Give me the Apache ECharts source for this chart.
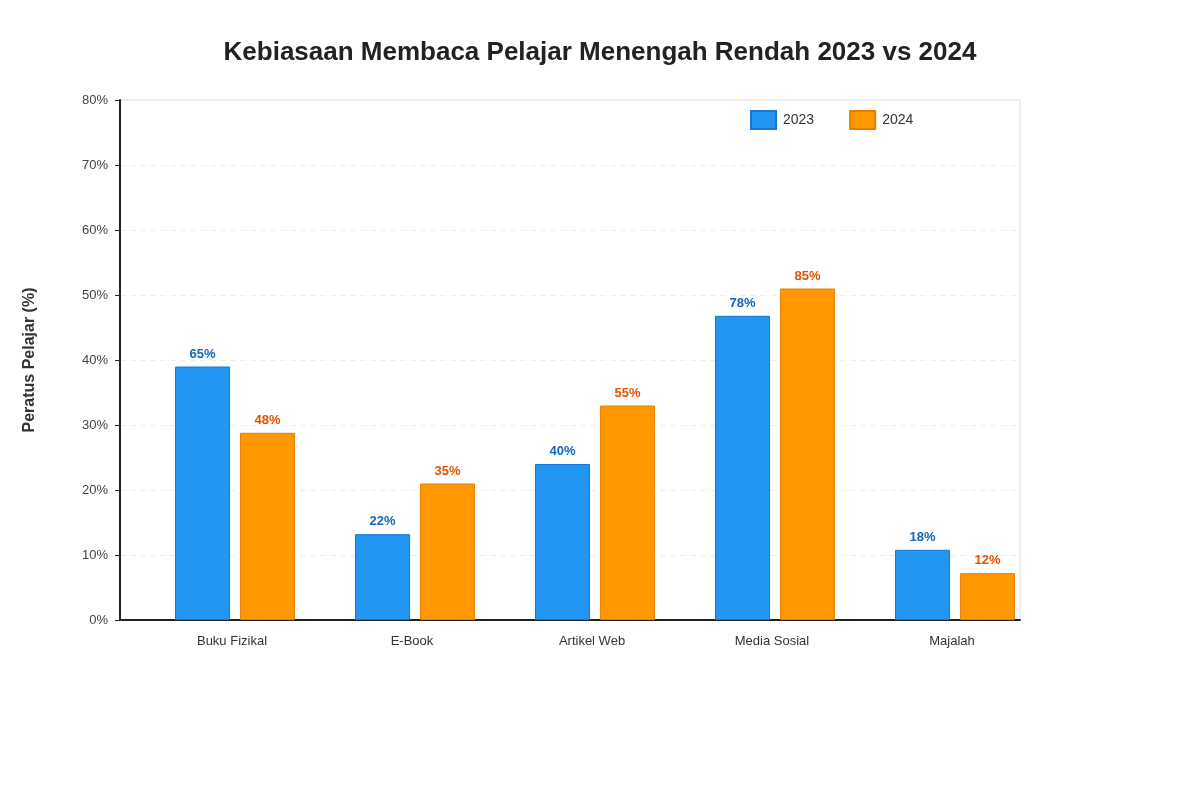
<!DOCTYPE html>
<html>
<head>
<meta charset="utf-8">
<script src="https://cdn.jsdelivr.net/npm/echarts@6/dist/echarts.min.js"></script>
<style>html,body{margin:0;padding:0;background:#fff}#c{width:1200px;height:800px}</style>
</head>
<body>
<div id="c"></div>
<script>
var categories = ['Buku Fizikal', 'E-Book', 'Artikel Web', 'Media Sosial', 'Majalah'];
var values2023 = [65, 22, 40, 78, 18];
var values2024 = [48, 35, 55, 85, 12];
var seriesNames = ['2023', '2024'];
// The axis as drawn: labels 0%..80% span data 0..133.3 (label = value * 0.6)
var axisScale = 0.6;
var axisTopLabel = 80;
var axisStepLabel = 10;

var yMax = axisTopLabel / axisScale;
var yInterval = axisStepLabel / axisScale;
var font = 'Liberation Sans, Arial, Helvetica, sans-serif';

var chart = echarts.init(document.getElementById('c'));
chart.setOption({
  animation: false,
  backgroundColor: '#fff',
  textStyle: { fontFamily: font },
  title: {
    text: 'Kebiasaan Membaca Pelajar Menengah Rendah 2023 vs 2024',
    left: 'center', top: 35,
    textStyle: { fontSize: 26, fontWeight: 'bold', color: '#222', fontFamily: font }
  },
  legend: {
    data: seriesNames,
    left: 745, top: 105,
    itemWidth: 25, itemHeight: 18, itemGap: 35,
    icon: 'rect',
    textStyle: { fontSize: 14, color: '#333', fontFamily: font, padding: [0, 0, 0, 2] }
  },
  grid: [
    { left: 120, top: 100, width: 900, height: 520, show: true, borderColor: '#ddd', borderWidth: 1, backgroundColor: 'transparent' },
    { left: 145, top: 100, width: 900, height: 520 }
  ],
  xAxis: [
    { type: 'category', gridIndex: 0, data: categories,
      axisLine: { lineStyle: { color: '#222', width: 2 } },
      axisTick: { show: false }, axisLabel: { show: false } },
    { type: 'category', gridIndex: 1, data: categories,
      axisLine: { show: false }, axisTick: { show: false },
      axisLabel: { fontSize: 13, color: '#333', margin: 15, padding: [0, 6, 0, 0], fontFamily: font } }
  ],
  yAxis: [
    { type: 'value', gridIndex: 0, min: 0, max: yMax, interval: yInterval,
      name: 'Peratus Pelajar (%)', nameLocation: 'middle', nameGap: 82,
      nameTextStyle: { fontSize: 16, fontWeight: 'bold', color: '#333', fontFamily: font },
      axisLine: { show: true, lineStyle: { color: '#222', width: 2 } },
      axisTick: { show: true, length: 5, lineStyle: { color: '#222' } },
      axisLabel: { fontSize: 13, color: '#444', margin: 12, fontFamily: font,
        formatter: function (v) { return Math.round(v * axisScale) + '%'; } },
      splitLine: { show: true, lineStyle: { color: '#eee', type: [6, 4], width: 1 } } },
    { type: 'value', gridIndex: 1, min: 0, max: yMax, interval: yInterval, show: false,
      splitLine: { show: false } }
  ],
  series: [
    { name: seriesNames[0], type: 'bar', xAxisIndex: 1, yAxisIndex: 1, data: values2023,
      barWidth: 55, barGap: '18%',
      itemStyle: { color: '#2196F3', borderColor: '#1976D2', borderWidth: 1 },
      label: { show: true, position: 'top', distance: 6, formatter: '{c}%', fontSize: 13, fontWeight: 'bold', color: '#1565C0', fontFamily: font } },
    { name: seriesNames[1], type: 'bar', xAxisIndex: 1, yAxisIndex: 1, data: values2024,
      barWidth: 55, barGap: '18%',
      itemStyle: { color: '#FF9800', borderColor: '#E67E00', borderWidth: 1 },
      label: { show: true, position: 'top', distance: 6, formatter: '{c}%', fontSize: 13, fontWeight: 'bold', color: '#E65100', fontFamily: font } }
  ]
});
</script>
</body>
</html>
